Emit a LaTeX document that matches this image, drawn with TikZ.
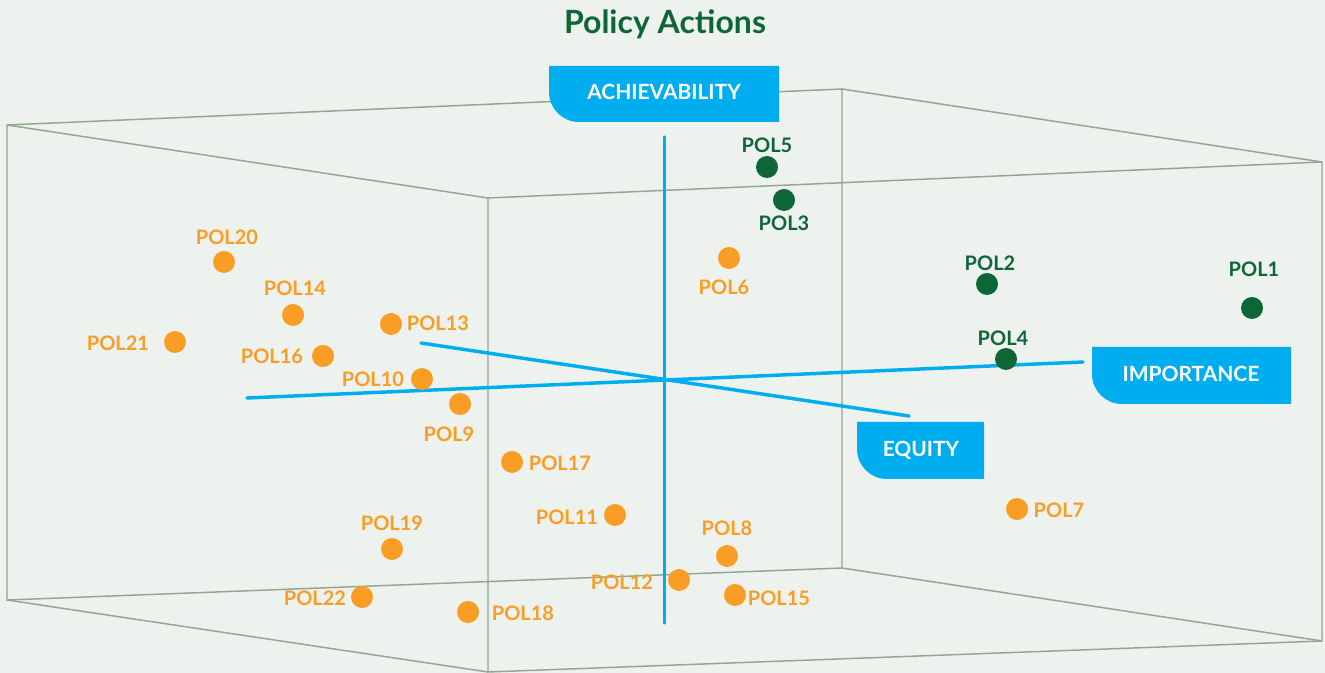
\documentclass[tikz,border=0pt]{standalone}
\usepackage{fontspec}
\setmainfont{Lato}
\usetikzlibrary{positioning}
\definecolor{bgcol}{HTML}{EDF2EE}
\definecolor{boxline}{HTML}{8FA88F}
\definecolor{axisblue}{HTML}{00AEEF}
\definecolor{polorange}{HTML}{F99D25}
\definecolor{polgreen}{HTML}{0E6535}

\begin{document}
\begin{tikzpicture}[x=0.75pt,y=-0.75pt]
    \tikzstyle{frame}=[draw=boxline, line width=1.1pt]
    \tikzstyle{axis}=[draw=axisblue, line width=2.6pt, line cap=round]
    \tikzstyle{dot}=[circle, inner sep=0pt, minimum size=16.5pt]
    \tikzstyle{odot}=[dot, fill=polorange]
    \tikzstyle{gdot}=[dot, fill=polgreen]
    \tikzstyle{pol}=[inner sep=0pt, font=\bfseries\fontsize{15}{17}\selectfont]
    \tikzstyle{olab}=[pol, text=polorange]
    \tikzstyle{glab}=[pol, text=polgreen]
    \tikzstyle{axlab}=[inner sep=0pt, anchor=base, text=white, font=\bfseries\fontsize{15.7}{18}\selectfont]

\fill[bgcol] (0,0) rectangle (1325,673);
\useasboundingbox (0,0) rectangle (1325,673);

\node[anchor=base, text=polgreen, font=\bfseries\fontsize{24}{28}\selectfont] (title) at (665,34) {Policy Actions};

% cube
\coordinate (btl) at (7,125);
\coordinate (btr) at (842,89);
\coordinate (bbr) at (842,568);
\coordinate (bbl) at (7,600);
\coordinate (ftl) at (488,198);
\coordinate (ftr) at (1322,162);
\coordinate (fbr) at (1322,641);
\coordinate (fbl) at (488,672);
\draw[frame] (btl) -- (btr) -- (bbr) -- (bbl) -- cycle;
\draw[frame] (ftl) -- (ftr) -- (fbr) -- (fbl) -- cycle;
\draw[frame] (btl) -- (ftl);
\draw[frame] (btr) -- (ftr);
\draw[frame] (bbr) -- (fbr);
\draw[frame] (bbl) -- (fbl);

% axes
\coordinate (acht) at (664.5,137);
\coordinate (achb) at (664.5,623);
\coordinate (impl) at (247,398);
\coordinate (impr) at (1083,362);
\coordinate (eql) at (421,343);
\coordinate (eqr) at (909,416);
\draw[axis] (acht) -- (achb);
\draw[axis] (impl) -- (impr);
\draw[axis] (eql) -- (eqr);

% policies
\foreach \n/\dx/\dy/\lx/\ly in {20/224/262/227/237, 14/293/315/295/288, 21/175/342/118/343,
    13/391/324/438/323, 16/323/356/272/356, 10/422/379/373/379, 9/460/404/449/434,
    17/512/462/560/463, 11/615/515/567/517, 19/392/549/392/523, 22/362/597/315/598,
    18/468/612/523/613, 8/727/556/727/528, 12/679/580/622/582, 15/735/595/779/598,
    7/1017/509/1059/510, 6/729/258/724/287}
{
    \node[odot] (p\n) at (\dx,\dy) {};
    \node[olab] (l\n) at (\lx,\ly) {POL\n};
}
\foreach \n/\dx/\dy/\lx/\ly in {5/767/167/767/145, 3/784/200/784/223, 2/987/284/990/263,
    1/1252/308/1254/269, 4/1006/359/1003/338}
{
    \node[gdot] (p\n) at (\dx,\dy) {};
    \node[glab] (l\n) at (\lx,\ly) {POL\n};
}

% axis labels
\fill[axisblue] (549,66) -- (779,66) -- (779,122) -- (579,122) arc[start angle=270, end angle=180, radius=22.5pt] -- cycle;
\node[axlab] (achv) at (664,100) {ACHIEVABILITY};
\fill[axisblue] (1092,347) -- (1291,347) -- (1291,404) -- (1122,404) arc[start angle=270, end angle=180, radius=22.5pt] -- cycle;
\node[axlab] (imp) at (1191,382) {IMPORTANCE};
\fill[axisblue] (857,422) -- (984,422) -- (984,479) -- (887,479) arc[start angle=270, end angle=180, radius=22.5pt] -- cycle;
\node[axlab] (eq) at (921,457) {EQUITY};
\end{tikzpicture}
\end{document}
